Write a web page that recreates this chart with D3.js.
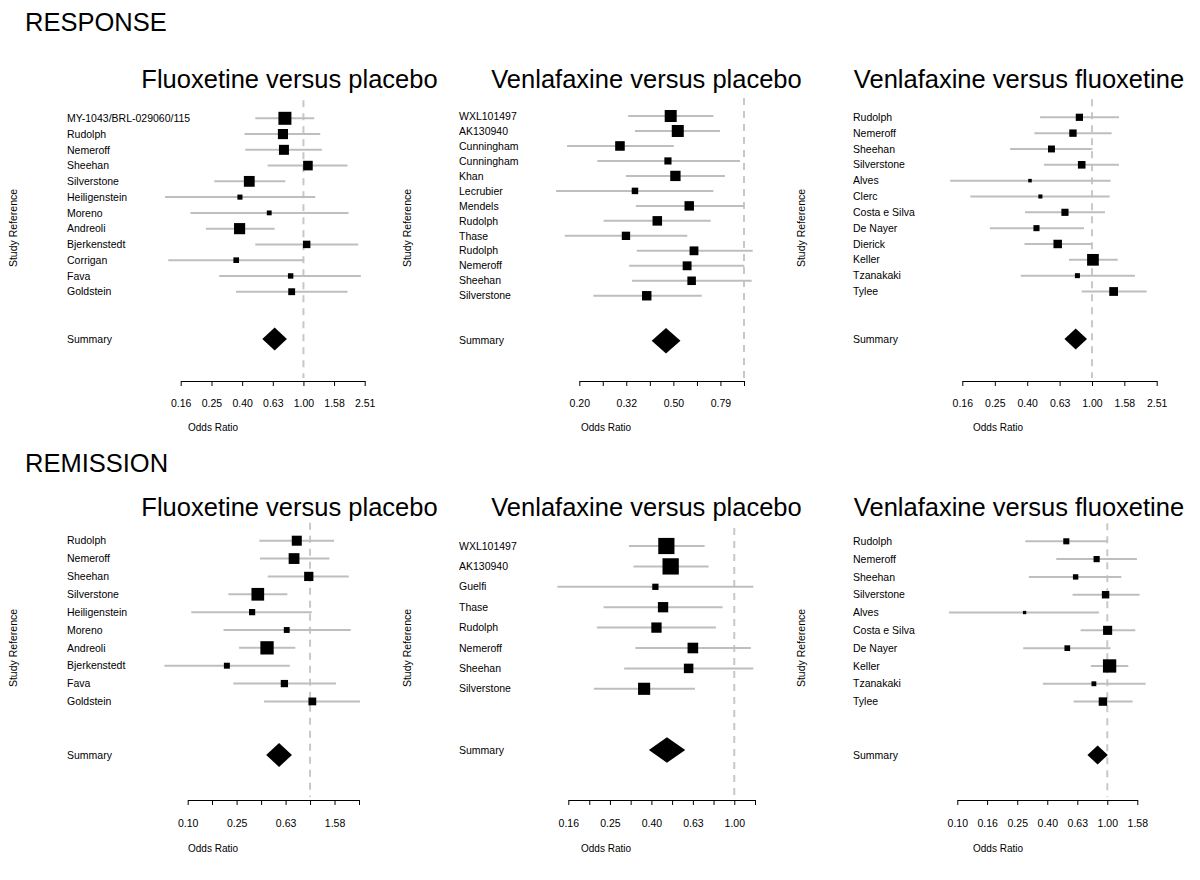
<!DOCTYPE html>
<html>
<head>
<meta charset="utf-8">
<script src="https://cdn.jsdelivr.net/npm/d3@7"></script>
<style>
  body { margin: 0; background: #fff; }
  text { font-family: "Liberation Sans", Arial, Helvetica, sans-serif; fill: #000; }
</style>
</head>
<body>
<div id="chart"></div>
<script>
// ---- data: odds ratios with 95% CI ----

// RESPONSE: fluoxetine versus placebo
const respFluPlaStudies = ["MY-1043/BRL-029060/115", "Rudolph", "Nemeroff", "Sheehan", "Silverstone",
  "Heiligenstein", "Moreno", "Andreoli", "Bjerkenstedt", "Corrigan", "Fava", "Goldstein"];
const respFluPlaOR   = [0.757, 0.735, 0.746, 1.07, 0.443, 0.385, 0.598, 0.383, 1.05, 0.364, 0.825, 0.838];
const respFluPlaLow  = [0.485, 0.413, 0.417, 0.584, 0.262, 0.125, 0.183, 0.231, 0.485, 0.131, 0.282, 0.363];
const respFluPlaHigh = [1.176, 1.287, 1.32, 1.94, 0.761, 1.194, 1.97, 0.649, 2.28, 1.01, 2.37, 1.94];
const respFluPlaSummary = [0.649, 0.539, 0.78];

// RESPONSE: venlafaxine versus placebo
const respVenPlaStudies = ["WXL101497", "AK130940", "Cunningham", "Cunningham", "Khan", "Lecrubier",
  "Mendels", "Rudolph", "Thase", "Rudolph", "Nemeroff", "Sheehan", "Silverstone"];
const respVenPlaOR   = [0.488, 0.523, 0.297, 0.475, 0.511, 0.344, 0.585, 0.428, 0.315, 0.613, 0.573, 0.599, 0.386];
const respVenPlaLow  = [0.322, 0.344, 0.177, 0.238, 0.315, 0.159, 0.347, 0.253, 0.173, 0.350, 0.325, 0.334, 0.229];
const respVenPlaHigh = [0.741, 0.791, 0.503, 0.962, 0.830, 0.741, 1.00, 0.722, 0.574, 1.089, 1.003, 1.078, 0.661];
const respVenPlaSummary = [0.466, 0.405, 0.537];

// RESPONSE: venlafaxine versus fluoxetine
const respVenFluStudies = ["Rudolph", "Nemeroff", "Sheehan", "Silverstone", "Alves", "Clerc",
  "Costa e Silva", "De Nayer", "Dierick", "Keller", "Tzanakaki", "Tylee"];
const respVenFluOR   = [0.836, 0.763, 0.562, 0.864, 0.414, 0.480, 0.681, 0.454, 0.614, 1.014, 0.813, 1.361];
const respVenFluLow  = [0.478, 0.441, 0.312, 0.505, 0.133, 0.177, 0.386, 0.234, 0.383, 0.721, 0.363, 0.864];
const respVenFluHigh = [1.468, 1.323, 1.006, 1.468, 1.304, 1.286, 1.203, 0.892, 0.996, 1.441, 1.842, 2.176];
const respVenFluSummary = [0.793, 0.676, 0.932];

// REMISSION: fluoxetine versus placebo
const remFluPlaStudies = ["Rudolph", "Nemeroff", "Sheehan", "Silverstone", "Heiligenstein", "Moreno",
  "Andreoli", "Bjerkenstedt", "Fava", "Goldstein"];
const remFluPlaOR   = [0.779, 0.740, 0.976, 0.374, 0.336, 0.645, 0.445, 0.209, 0.617, 1.044];
const remFluPlaLow  = [0.385, 0.390, 0.451, 0.215, 0.107, 0.196, 0.263, 0.0645, 0.236, 0.421];
const remFluPlaHigh = [1.57, 1.438, 2.07, 0.652, 1.033, 2.15, 0.758, 0.683, 1.63, 2.56];
const remFluPlaSummary = [0.558, 0.438, 0.711];

// REMISSION: venlafaxine versus placebo
const remVenPlaStudies = ["WXL101497", "AK130940", "Guelfi", "Thase", "Rudolph", "Nemeroff", "Sheehan", "Silverstone"];
const remVenPlaOR   = [0.470, 0.493, 0.416, 0.453, 0.421, 0.631, 0.602, 0.367];
const remVenPlaLow  = [0.310, 0.326, 0.140, 0.234, 0.217, 0.333, 0.294, 0.210];
const remVenPlaHigh = [0.719, 0.752, 1.235, 0.878, 0.815, 1.202, 1.235, 0.646];
const remVenPlaSummary = [0.473, 0.387, 0.580];

// REMISSION: venlafaxine versus fluoxetine
const remVenFluStudies = ["Rudolph", "Nemeroff", "Sheehan", "Silverstone", "Alves", "Costa e Silva",
  "De Nayer", "Keller", "Tzanakaki", "Tylee"];
const remVenFluOR   = [0.533, 0.849, 0.615, 0.974, 0.281, 1.005, 0.541, 1.036, 0.814, 0.935];
const remVenFluLow  = [0.284, 0.457, 0.300, 0.587, 0.088, 0.664, 0.275, 0.777, 0.372, 0.596];
const remVenFluHigh = [1.0, 1.575, 1.24, 1.642, 0.879, 1.537, 1.052, 1.38, 1.80, 1.475];
const remVenFluSummary = [0.862, 0.737, 1.008];

// ---- axis ticks (log spaced) and their labels ----
const ticksWide = [0.158, 0.251, 0.398, 0.631, 1, 1.585, 2.512];
const labelsWide = ["0.16", "0.25", "0.40", "0.63", "1.00", "1.58", "2.51"];
const ticksRespVP = [0.1995, 0.251, 0.316, 0.398, 0.501, 0.631, 0.794, 1];
const labelsRespVP = ["0.20", "", "0.32", "", "0.50", "", "0.79", ""];
const ticksRemFP = [0.1, 0.158, 0.251, 0.398, 0.631, 1, 1.585, 2.512];
const labelsRemFP = ["0.10", "", "0.25", "", "0.63", "", "1.58", ""];
const ticksRemVP = [0.158, 0.1995, 0.251, 0.316, 0.398, 0.501, 0.631, 0.794, 1, 1.259];
const labelsRemVP = ["0.16", "", "0.25", "", "0.40", "", "0.63", "", "1.00", ""];
const ticksRemVF = [0.1, 0.158, 0.251, 0.398, 0.631, 1, 1.585];
const labelsRemVF = ["0.10", "0.16", "0.25", "0.40", "0.63", "1.00", "1.58"];

const titleFP = "Fluoxetine versus placebo";
const titleVP = "Venlafaxine versus placebo";
const titleVF = "Venlafaxine versus fluoxetine";

const W = 1200, H = 880;
const FONT_SMALL = 10.5;
const CI_COLOR = "#bebebe";
const REF_COLOR = "#c8c8c8";

const svg = d3.select("#chart").append("svg")
  .attr("width", W)
  .attr("height", H);

// section headings
svg.append("text").attr("x", 25).attr("y", 31).style("font-size", "25.5px").text("RESPONSE");
svg.append("text").attr("x", 25).attr("y", 472).style("font-size", "25.5px").text("REMISSION");

// layout of the six panels
const rowTop = { title: 88, axis: 381, tickText: 407, xlab: 431, ylab: 228 };
const rowBot = { title: 516, axis: 800, tickText: 827, xlab: 852, ylab: 648 };
const col = [
  { labelX: 67, ylabX: 13, titleX: 289.5, xlabX: 188 },
  { labelX: 459, ylabX: 407, titleX: 646.5, xlabX: 581 },
  { labelX: 853, ylabX: 801, titleX: 1019, xlabX: 973 }
];

const panels = [
  { row: rowTop, col: col[0], title: titleFP, studies: respFluPlaStudies, or: respFluPlaOR, lo: respFluPlaLow,
    hi: respFluPlaHigh, summ: respFluPlaSummary, ticks: ticksWide, labels: labelsWide,
    xRange: [180.7, 364.7], yRange: [118.3, 339], boxMax: 13 },
  { row: rowTop, col: col[1], title: titleVP, studies: respVenPlaStudies, or: respVenPlaOR, lo: respVenPlaLow,
    hi: respVenPlaHigh, summ: respVenPlaSummary, ticks: ticksRespVP, labels: labelsRespVP,
    xRange: [579.3, 744], yRange: [116, 340.7], boxMax: 12 },
  { row: rowTop, col: col[2], title: titleVF, studies: respVenFluStudies, or: respVenFluOR, lo: respVenFluLow,
    hi: respVenFluHigh, summ: respVenFluSummary, ticks: ticksWide, labels: labelsWide,
    xRange: [962.3, 1156.7], yRange: [117.3, 339], boxMax: 11.7 },
  { row: rowBot, col: col[0], title: titleFP, studies: remFluPlaStudies, or: remFluPlaOR, lo: remFluPlaLow,
    hi: remFluPlaHigh, summ: remFluPlaSummary, ticks: ticksRemFP, labels: labelsRemFP,
    xRange: [187.7, 359], yRange: [540.7, 755], boxMax: 13.3 },
  { row: rowBot, col: col[1], title: titleVP, studies: remVenPlaStudies, or: remVenPlaOR, lo: remVenPlaLow,
    hi: remVenPlaHigh, summ: remVenPlaSummary, ticks: ticksRemVP, labels: labelsRemVP,
    xRange: [568.3, 755], yRange: [546, 750], boxMax: 16.3 },
  { row: rowBot, col: col[2], title: titleVF, studies: remVenFluStudies, or: remVenFluOR, lo: remVenFluLow,
    hi: remVenFluHigh, summ: remVenFluSummary, ticks: ticksRemVF, labels: labelsRemVF,
    xRange: [957.3, 1137.3], yRange: [541.3, 755], boxMax: 13.3 }
];

function drawPanel(p) {
  const g = svg.append("g");
  const n = p.studies.length;
  const x = d3.scaleLog()
    .domain([p.ticks[0], p.ticks[p.ticks.length - 1]])
    .range(p.xRange);
  // studies at rows 0..n-1, summary two blank rows further down
  const y = d3.scaleLinear().domain([0, n + 2]).range(p.yRange);

  g.append("text")
    .attr("x", p.col.titleX).attr("y", p.row.title)
    .attr("text-anchor", "middle")
    .style("font-size", "25.5px")
    .text(p.title);

  // line of no effect
  g.append("line")
    .attr("x1", x(1)).attr("x2", x(1))
    .attr("y1", y(0) - 18).attr("y2", p.row.axis - 3)
    .attr("stroke", REF_COLOR).attr("stroke-width", 2)
    .attr("stroke-dasharray", "7,6");

  const rows = p.studies.map((s, i) => ({ name: s, or: p.or[i], lo: p.lo[i], hi: p.hi[i], i: i }));

  // box size proportional to precision (1 / CI width on log scale)
  const widths = rows.map(d => Math.log(d.hi) - Math.log(d.lo));
  const minW = d3.min(widths);

  g.selectAll(".ci").data(rows).enter().append("line")
    .attr("x1", d => x(d.lo)).attr("x2", d => x(d.hi))
    .attr("y1", d => y(d.i)).attr("y2", d => y(d.i))
    .attr("stroke", CI_COLOR).attr("stroke-width", 2);

  g.selectAll(".box").data(rows).enter().append("rect")
    .attr("x", (d, i) => x(d.or) - p.boxMax * minW / widths[i] / 2)
    .attr("y", (d, i) => y(d.i) - p.boxMax * minW / widths[i] / 2)
    .attr("width", (d, i) => p.boxMax * minW / widths[i])
    .attr("height", (d, i) => p.boxMax * minW / widths[i])
    .attr("fill", "#000");

  g.selectAll(".lab").data(rows).enter().append("text")
    .attr("x", p.col.labelX).attr("y", d => y(d.i))
    .attr("dy", "0.35em")
    .style("font-size", FONT_SMALL + "px")
    .text(d => d.name);

  // summary diamond
  const ys = y(n + 2);
  const [sm, sl, su] = p.summ;
  const hw = (x(su) - x(sl)) / 2;
  const hh = Math.min(hw * 0.93, 12.8);
  g.append("path")
    .attr("d", `M${x(sl)},${ys} L${x(sm)},${ys - hh} L${x(su)},${ys} L${x(sm)},${ys + hh} Z`)
    .attr("fill", "#000");
  g.append("text")
    .attr("x", p.col.labelX).attr("y", ys).attr("dy", "0.35em")
    .style("font-size", FONT_SMALL + "px")
    .text("Summary");

  // axis
  const axis = d3.axisBottom(x)
    .tickValues(p.ticks)
    .tickFormat((d, i) => p.labels[i])
    .tickSize(5)
    .tickSizeOuter(0);
  const ax = g.append("g")
    .attr("transform", `translate(0,${p.row.axis})`)
    .call(axis);
  ax.select(".domain").attr("stroke", "#000").attr("stroke-width", 1);
  ax.selectAll(".tick line").attr("stroke", "#000").attr("stroke-width", 1);
  ax.selectAll(".tick text")
    .attr("y", p.row.tickText - p.row.axis)
    .attr("dy", null)
    .style("font-size", FONT_SMALL + "px")
    .style("font-family", '"Liberation Sans", Arial, sans-serif');

  g.append("text")
    .attr("x", p.col.xlabX).attr("y", p.row.xlab)
    .style("font-size", "10px")
    .text("Odds Ratio");

  g.append("text")
    .attr("transform", `translate(${p.col.ylabX + 4},${p.row.ylab}) rotate(-90)`)
    .attr("text-anchor", "middle")
    .style("font-size", FONT_SMALL + "px")
    .text("Study Reference");
}

panels.forEach(drawPanel);
</script>
</body>
</html>
